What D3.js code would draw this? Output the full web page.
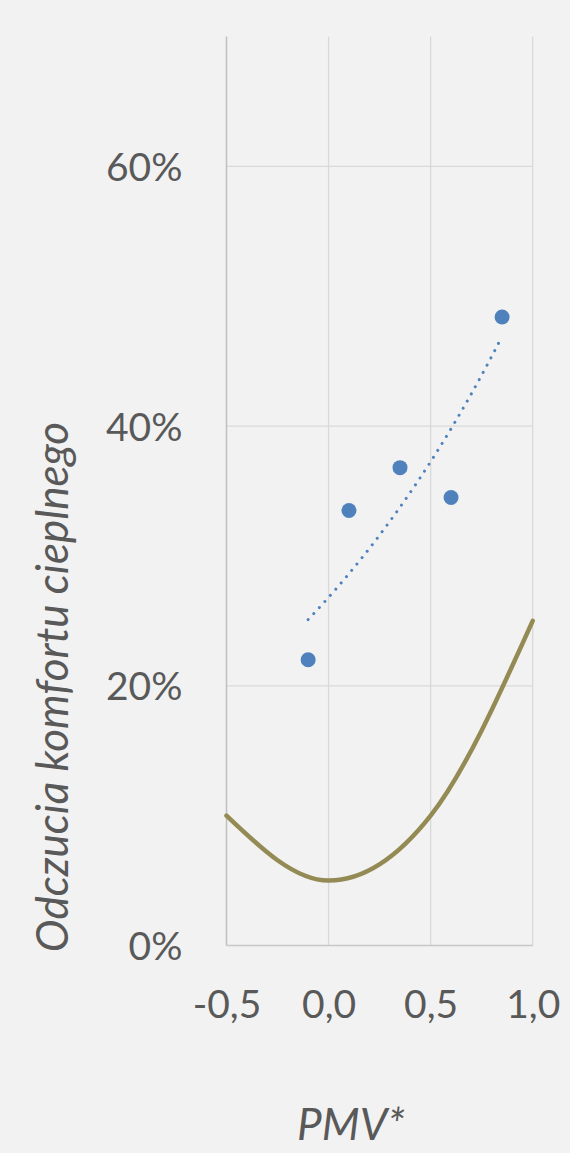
<!DOCTYPE html>
<html>
<head>
<meta charset="utf-8">
<script src="https://cdn.jsdelivr.net/npm/d3@7"></script>
<style>
  html, body { margin: 0; padding: 0; background: #f2f2f2; }
  svg { display: block; }
</style>
</head>
<body>
<svg id="chart" width="570" height="1153"></svg>
<script>
// Survey results: share of thermal-comfort votes against PMV*
const surveyPmv   = [-0.1, 0.1, 0.35, 0.6, 0.85];
const surveyShare = [0.22, 0.335, 0.368, 0.345, 0.484];

// Reference PPD curve
const ppdPmv   = [-0.5, 0.0, 0.5, 1.0];
const ppdShare = [0.10, 0.05, 0.10, 0.25];

// Axis ticks and titles
const xTicks = [-0.5, 0.0, 0.5, 1.0];
const yTicks = [0.0, 0.2, 0.4, 0.6];
const xTitle = "PMV*";
const yTitle = "Odczucia komfortu cieplnego";

const svg = d3.select("#chart");
const W = 570, H = 1153;
const plot = { left: 226.5, right: 532.7, top: 36.5, bottom: 945.5 };
const FONT = "Lato, 'Open Sans', sans-serif";
const TEXT = "#595959";

svg.append("rect").attr("width", W).attr("height", H).attr("fill", "#f2f2f2");

const x = d3.scaleLinear().domain([-0.5, 1.0]).range([plot.left, plot.right]);
const y = d3.scaleLinear().domain([0, 0.7]).range([plot.bottom, plot.top]);

const pl = d3.formatLocale({ decimal: ",", thousands: " ", grouping: [3], currency: ["", " zł"], minus: "-" });
const fmtX = pl.format(".1f");
const fmtY = d3.format(".0%");

// Grid
const grid = svg.append("g");
grid.selectAll("line.h").data(yTicks.filter(d => d > 0)).join("line")
  .attr("x1", plot.left).attr("x2", plot.right)
  .attr("y1", d => y(d)).attr("y2", d => y(d))
  .attr("stroke", "#d9d9d9").attr("stroke-width", 1.3);
grid.selectAll("line.v").data(xTicks.filter(d => d > -0.5)).join("line")
  .attr("x1", d => x(d)).attr("x2", d => x(d))
  .attr("y1", plot.top).attr("y2", plot.bottom)
  .attr("stroke", "#d9d9d9").attr("stroke-width", 1.3);

// Axes
const yAxis = svg.append("g")
  .attr("transform", `translate(${plot.left},0)`)
  .call(d3.axisLeft(y).tickValues(yTicks).tickFormat(fmtY).tickSize(0).tickPadding(44));
yAxis.select(".domain").remove();
yAxis.selectAll("text")
  .attr("font-family", FONT).attr("font-size", 39).attr("fill", TEXT)
  .attr("dy", "0.36em");

const xAxis = svg.append("g")
  .attr("transform", `translate(0,${plot.bottom})`)
  .call(d3.axisBottom(x).tickValues(xTicks).tickFormat(fmtX).tickSize(0).tickPadding(45));
xAxis.select(".domain").remove();
xAxis.selectAll("text")
  .attr("font-family", FONT).attr("font-size", 39).attr("fill", TEXT);

svg.append("line")
  .attr("x1", plot.left).attr("x2", plot.left)
  .attr("y1", plot.top).attr("y2", plot.bottom)
  .attr("stroke", "#bfbfbf").attr("stroke-width", 1.5);
svg.append("line")
  .attr("x1", plot.left).attr("x2", plot.right)
  .attr("y1", plot.bottom).attr("y2", plot.bottom)
  .attr("stroke", "#c8c8c8").attr("stroke-width", 1.5);

// PPD curve
const ppd = ppdPmv.map((v, i) => [v, ppdShare[i]]);
svg.append("path")
  .datum(ppd)
  .attr("fill", "none")
  .attr("stroke", "#948a54")
  .attr("stroke-width", 4.5)
  .attr("stroke-linecap", "round")
  .attr("d", d3.line().x(d => x(d[0])).y(d => y(d[1])).curve(d3.curveMonotoneX));

// Exponential trendline fitted to the survey points
const lnShare = surveyShare.map(Math.log);
const mx = d3.mean(surveyPmv), my = d3.mean(lnShare);
const b = d3.sum(surveyPmv, (v, i) => (v - mx) * (lnShare[i] - my)) /
          d3.sum(surveyPmv, v => (v - mx) * (v - mx));
const a = Math.exp(my - b * mx);
const [t0, t1] = d3.extent(surveyPmv);
const trend = d3.range(61).map(i => {
  const t = t0 + (t1 - t0) * i / 60;
  return [t, a * Math.exp(b * t)];
});
svg.append("path")
  .datum(trend)
  .attr("fill", "none")
  .attr("stroke", "#4f81bd")
  .attr("stroke-width", 3)
  .attr("stroke-linecap", "round")
  .attr("stroke-dasharray", "0.01 8.2")
  .attr("d", d3.line().x(d => x(d[0])).y(d => y(d[1])));

// Survey points
svg.append("g").selectAll("circle")
  .data(surveyPmv.map((v, i) => [v, surveyShare[i]]))
  .join("circle")
  .attr("cx", d => x(d[0])).attr("cy", d => y(d[1]))
  .attr("r", 7.5)
  .attr("fill", "#4f81bd");

// Titles
svg.append("text")
  .attr("x", 351).attr("y", 1140)
  .attr("text-anchor", "middle")
  .attr("font-family", FONT).attr("font-style", "italic")
  .attr("font-size", 44).attr("fill", TEXT)
  .text(xTitle);

svg.append("text")
  .attr("transform", "translate(68,687) rotate(-90)")
  .attr("text-anchor", "middle")
  .attr("font-family", FONT).attr("font-style", "italic")
  .attr("font-size", 44).attr("fill", TEXT)
  .text(yTitle);
</script>
</body>
</html>
